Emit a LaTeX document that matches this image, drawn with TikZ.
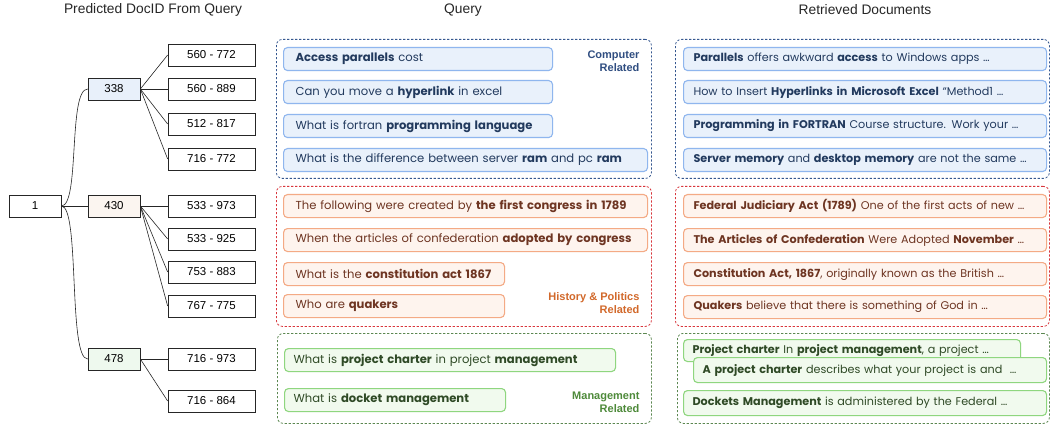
\documentclass[tikz,border=0pt]{standalone}
\usepackage{fontspec}
\setmainfont{Poppins}
\newfontfamily\arial{Liberation Sans}
\definecolor{bfill}{HTML}{E9F1FB}
\definecolor{bline}{HTML}{8FB6EE}
\definecolor{btext}{HTML}{223A5E}
\definecolor{bcont}{HTML}{35578F}
\definecolor{rfill}{HTML}{FEF4EE}
\definecolor{rline}{HTML}{F4AA85}
\definecolor{rtext}{HTML}{6E3522}
\definecolor{rcont}{HTML}{D8363C}
\definecolor{rlbl}{HTML}{D2692B}
\definecolor{gfill}{HTML}{F1FAEE}
\definecolor{gline}{HTML}{8FD67F}
\definecolor{gtext}{HTML}{2F4A26}
\definecolor{gcont}{HTML}{5B8750}
\definecolor{glbl}{HTML}{4E8A3A}
\definecolor{t338}{HTML}{E8F0FA}
\definecolor{t430}{HTML}{FBF5F0}
\definecolor{t478}{HTML}{EEF9EE}
\tikzset{
  hdr/.style={font=\arial\fontsize{13.8}{15}\selectfont, text=black!85},
  tn/.style={draw=black!85, line width=0.7pt, minimum width=52pt, minimum height=22pt, inner sep=0pt, font=\arial\fontsize{11.5}{13}\selectfont},
  leaf/.style={tn, minimum width=87pt},
  box/.style={rounded corners=4pt, line width=1.1pt, anchor=north west, minimum height=23pt, inner xsep=12pt, inner ysep=0pt, align=left, font=\fontsize{11.6}{13}\selectfont},
  rdoc/.style={inner xsep=10pt, text width=343pt, font=\fontsize{11.2}{13}\selectfont},
  bbox/.style={box, fill=bfill, draw=bline, text=btext},
  rbox/.style={box, fill=rfill, draw=rline, text=rtext},
  gbox/.style={box, fill=gfill, draw=gline, text=gtext},
  cont/.style={rounded corners=6pt, line width=0.8pt, dash pattern=on 2.2pt off 1.8pt, anchor=north west, inner sep=0pt},
  clbl/.style={anchor=east, align=right, font=\arial\bfseries\fontsize{11}{13}\selectfont},
  conn/.style={draw=black!85, line width=0.6pt}
}
\begin{document}
\begin{tikzpicture}[x=1pt,y=-1pt]
\useasboundingbox[fill=white] (0,0) rectangle (1050,425);
% headers
\node[hdr] (h1) at (153,10) {Predicted DocID From Query};
\node[hdr] (h2) at (463,10) {Query};
\node[hdr] (h3) at (865,10) {Retrieved Documents};
% tree
\node[tn] (root) at (35,206) {1};
\node[tn, fill=t338] (n338) at (114,89) {338};
\node[tn, fill=t430] (n430) at (114,206) {430};
\node[tn, fill=t478] (n478) at (114,359) {478};
\node[leaf] (l1) at (211.5,55) {560 - 772};
\node[leaf] (l2) at (211.5,89) {560 - 889};
\node[leaf] (l3) at (211.5,124) {512 - 817};
\node[leaf] (l4) at (211.5,159) {716 - 772};
\node[leaf] (l5) at (211.5,206) {533 - 973};
\node[leaf] (l6) at (211.5,239) {533 - 925};
\node[leaf] (l7) at (211.5,272) {753 - 883};
\node[leaf] (l8) at (211.5,306) {767 - 775};
\node[leaf] (l9) at (211.5,359) {716 - 973};
\node[leaf] (l10) at (211.5,401) {716 - 864};
\draw[conn] (root.east) .. controls (80,206) and (68,89) .. (n338.west);
\draw[conn] (root.east) .. controls (80,206) and (68,359) .. (n478.west);
\draw[conn] (root.east) -- (n430.west);
\foreach \l in {l1,l2,l3,l4} \draw[conn] (n338.east) -- (\l.west);
\foreach \l in {l5,l6,l7,l8} \draw[conn] (n430.east) -- (\l.west);
\foreach \l in {l9,l10} \draw[conn] (n478.east) -- (\l.west);
% query containers
\node[cont, draw=bcont, minimum width=375pt, minimum height=139pt] (qcb) at (276,39) {};
\node[cont, draw=rcont, minimum width=375pt, minimum height=140pt] (qcr) at (276,186) {};
\node[cont, draw=gcont, minimum width=374pt, minimum height=90pt] (qcg) at (277,333) {};
% retrieved containers
\node[cont, draw=bcont, minimum width=374pt, minimum height=139pt] (rcb) at (675,39) {};
\node[cont, draw=rcont, minimum width=374pt, minimum height=140pt] (rcr) at (675,186) {};
\node[cont, draw=gcont, minimum width=372pt, minimum height=90pt] (rcg) at (677,333) {};
% labels
\node[clbl, text=bcont!90!black] (lb) at (643,61) {Computer\\Related};
\node[clbl, text=rlbl] (lr) at (643,303.5) {History \& Politics\\Related};
\node[clbl, text=glbl] (lg) at (643,402) {Management\\Related};
% query boxes
\node[bbox, text width=245pt] (qb1) at (283,47) {\textbf{Access parallels} cost};
\node[bbox, text width=245pt] (qb2) at (283,80) {Can you move a \textbf{hyperlink} in excel};
\node[bbox, text width=245pt] (qb3) at (283,114) {What is fortran \textbf{programming language}};
\node[bbox, text width=340pt] (qb4) at (283,148) {What is the difference between server \textbf{ram} and pc \textbf{ram}};
\node[rbox, text width=340pt] (qr1) at (283,194) {The following were created by \textbf{the first congress in 1789}};
\node[rbox, text width=340pt] (qr2) at (283,228) {When the articles of confederation \textbf{adopted by congress}};
\node[rbox, text width=197pt] (qr3) at (283,262) {What is the \textbf{constitution act 1867}};
\node[rbox, text width=197pt] (qr4) at (283,294) {Who are \textbf{quakers}};
\node[gbox, inner xsep=9pt, text width=313pt] (qg1) at (284,348) {What is \textbf{project charter} in project \textbf{management}};
\node[gbox, inner xsep=9pt, text width=203pt] (qg2) at (284,388) {What is \textbf{docket management}};
% retrieved boxes
\node[bbox, rdoc] (rb1) at (683,47) {\mbox{\textbf{Parallels} offers awkward \textbf{access} to Windows apps …}};
\node[bbox, rdoc] (rb2) at (683,80) {\mbox{How to Insert \textbf{Hyperlinks in Microsoft Excel} “Method1 …}};
\node[bbox, rdoc] (rb3) at (683,114) {\mbox{\textbf{Programming in FORTRAN} Course structure. Work your …}};
\node[bbox, rdoc] (rb4) at (683,148) {\mbox{\textbf{Server memory} and \textbf{desktop memory} are not the same …}};
\node[rbox, rdoc] (rr1) at (683,194) {\mbox{\textbf{Federal Judiciary Act (1789)} One of the first acts of new …}};
\node[rbox, rdoc] (rr2) at (683,228) {\mbox{\textbf{The Articles of Confederation} Were Adopted \textbf{November} …}};
\node[rbox, rdoc] (rr3) at (683,262) {\mbox{\textbf{Constitution Act, 1867}, originally known as the British …}};
\node[rbox, rdoc] (rr4) at (683,295) {\mbox{\textbf{Quakers} believe that there is something of God in …}};
\node[gbox, rdoc, inner xsep=9pt, text width=319pt, minimum height=22pt] (rg1) at (683,339) {\mbox{\textbf{Project charter} In \textbf{project management}, a project …}};
\node[gbox, rdoc, inner xsep=9pt, text width=335pt, minimum height=25pt] (rg2) at (693,357) {\mbox{\textbf{A project charter} describes what your project is and \ …}};
\node[gbox, rdoc, inner xsep=9pt, text width=345pt, minimum height=25pt] (rg3) at (683,390) {\mbox{\textbf{Dockets Management} is administered by the Federal …}};
\end{tikzpicture}
\end{document}
